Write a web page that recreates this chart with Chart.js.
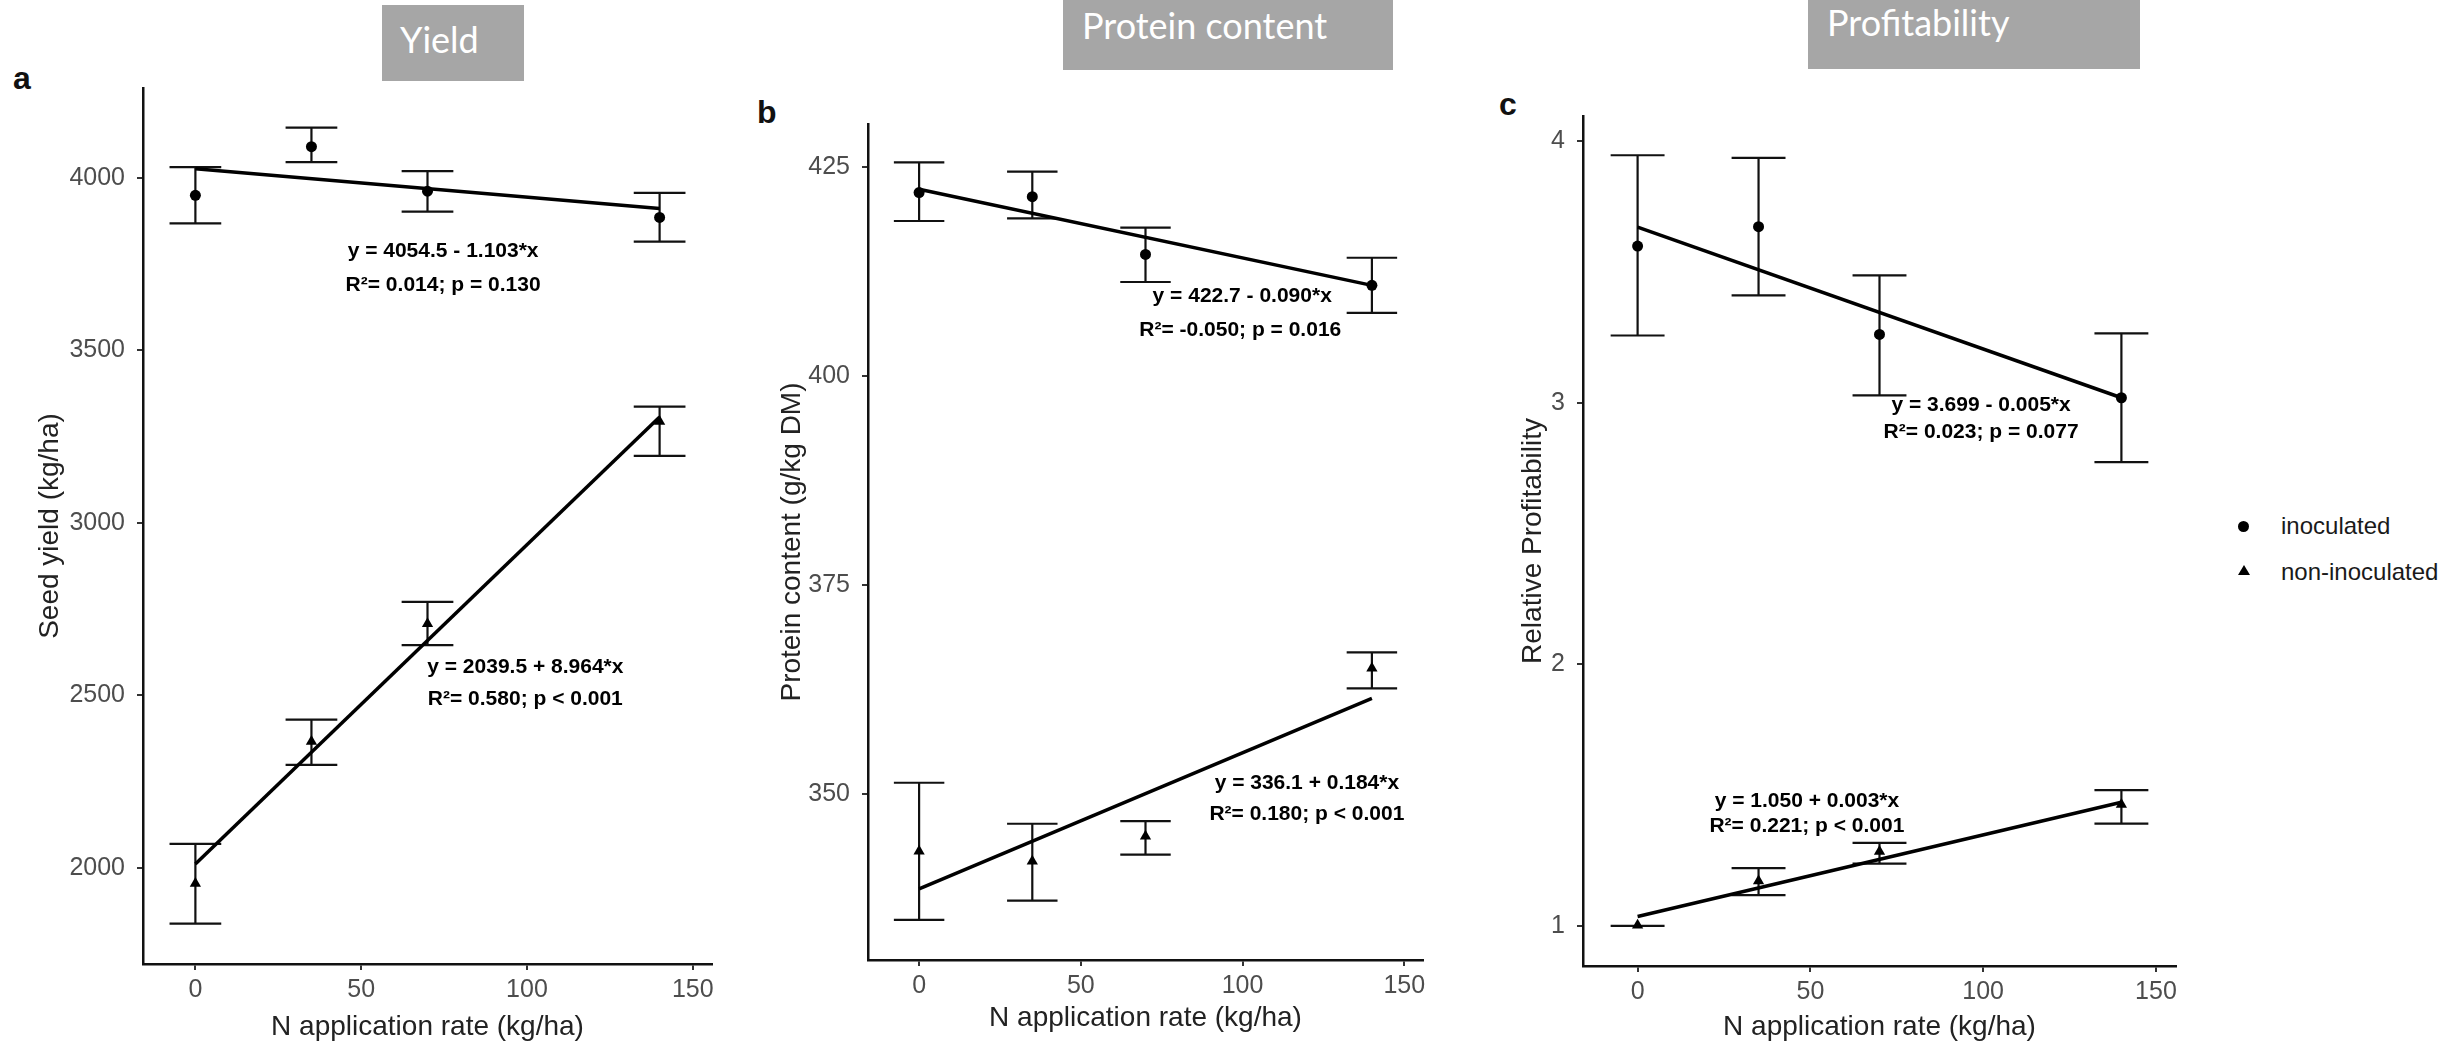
<!DOCTYPE html>
<html>
<head>
<meta charset="utf-8">
<script src="https://cdn.jsdelivr.net/npm/chart.js@4.4.1/dist/chart.umd.min.js"></script>
<style>
html,body{margin:0;padding:0;background:#fff;}
body{width:2445px;height:1041px;overflow:hidden;position:relative;font-family:'Liberation Sans',Arial,sans-serif;}
canvas{position:absolute;top:0;}
.tbox{position:absolute;background:#a6a6a6;}
.tbox span{position:absolute;color:#fff;font-family:Lato,'Open Sans',sans-serif;font-size:36px;line-height:43px;white-space:nowrap;}
.plab{position:absolute;font-size:32px;line-height:32px;font-weight:bold;color:#111;}
.leg{position:absolute;font-size:24px;line-height:24px;color:#1a1a1a;white-space:nowrap;}
.dot{position:absolute;width:11px;height:11px;border-radius:50%;background:#000;}
.tri{position:absolute;width:0;height:0;border-left:6px solid transparent;border-right:6px solid transparent;border-bottom:10px solid #000;}
</style>
</head>
<body>
<div class="tbox" style="left:382px;top:5px;width:142px;height:76px;"><span style="left:18px;top:13px;">Yield</span></div>
<div class="tbox" style="left:1063px;top:0px;width:330px;height:70px;"><span style="left:19px;top:4px;">Protein content</span></div>
<div class="tbox" style="left:1808px;top:0px;width:332px;height:69px;"><span style="left:19px;top:1px;">Profitability</span></div>
<div class="plab" style="left:13px;top:62px;">a</div>
<div class="plab" style="left:757px;top:96px;">b</div>
<div class="plab" style="left:1499px;top:88px;">c</div>
<div class="dot" style="left:2238px;top:521px;"></div>
<div class="leg" style="left:2281px;top:514px;">inoculated</div>
<div class="tri" style="left:2238px;top:565px;"></div>
<div class="leg" style="left:2281px;top:560px;">non-inoculated</div>
<script>
// ---------- data ----------
const nRates = [0, 35, 70, 140];
const fitX = [0, 140];

// Yield (kg/ha)
const yieldInocMean = [3949, 4090, 3961, 3885];
const yieldInocLow  = [3868, 4045, 3902, 3815];
const yieldInocHigh = [4031, 4145, 4019, 3956];
const yieldNonMean  = [1955, 2367, 2708, 3294];
const yieldNonLow   = [1839, 2299, 2646, 3194];
const yieldNonHigh  = [2070, 2430, 2771, 3337];
const yieldInocFit  = [4026, 3911];
const yieldNonFit   = [2012, 3307];
const yieldTicks    = [2000, 2500, 3000, 3500, 4000];

// Protein content (g/kg DM)
const protInocMean = [421.9, 421.4, 414.5, 410.8];
const protInocLow  = [418.5, 418.8, 411.2, 407.5];
const protInocHigh = [425.5, 424.4, 417.7, 414.1];
const protNonMean  = [343.1, 341.9, 344.9, 365.0];
const protNonLow   = [334.9, 337.2, 342.7, 362.6];
const protNonHigh  = [351.3, 346.4, 346.7, 366.9];
const protInocFit  = [422.3, 410.8];
const protNonFit   = [338.6, 361.4];
const protTicks    = [350, 375, 400, 425];

// Relative profitability
const profInocMean = [3.599, 3.673, 3.261, 3.019];
const profInocLow  = [3.257, 3.410, 3.028, 2.773];
const profInocHigh = [3.946, 3.936, 3.487, 3.265];
const profNonMean  = [1.003, 1.172, 1.285, 1.464];
const profNonLow   = [1.000, 1.118, 1.238, 1.391];
const profNonHigh  = [1.000, 1.221, 1.318, 1.519];
const profInocFit  = [3.671, 3.019];
const profNonFit   = [1.036, 1.473];
const profTicks    = [1, 2, 3, 4];

const xTicks = [0, 50, 100, 150];

const yieldEq = ['y = 4054.5 - 1.103*x', 'R²= 0.014; p = 0.130', 'y = 2039.5 + 8.964*x', 'R²= 0.580; p < 0.001'];
const protEq  = ['y = 422.7 - 0.090*x', 'R²= -0.050; p = 0.016', 'y = 336.1 + 0.184*x', 'R²= 0.180; p < 0.001'];
const profEq  = ['y = 3.699 - 0.005*x', 'R²= 0.023; p = 0.077', 'y = 1.050 + 0.003*x', 'R²= 0.221; p < 0.001'];

// ---------- rendering ----------
const H = 1041;
const FONT = "'Liberation Sans', Arial, sans-serif";
const CAP = 7.8; // half width of error-bar caps, in x units

const errPlugin = {
  id: 'errbars',
  beforeDatasetsDraw(chart, args, opts) {
    const {ctx, scales: {x, y}} = chart;
    ctx.save();
    ctx.strokeStyle = '#111';
    ctx.lineWidth = 2.2;
    ctx.lineCap = 'butt';
    for (const s of opts.series) {
      nRates.forEach((r, i) => {
        const px = x.getPixelForValue(r);
        const lo = y.getPixelForValue(s.low[i]);
        const hi = y.getPixelForValue(s.high[i]);
        const c0 = x.getPixelForValue(r - CAP), c1 = x.getPixelForValue(r + CAP);
        ctx.beginPath();
        ctx.moveTo(px, lo); ctx.lineTo(px, hi);
        ctx.moveTo(c0, lo); ctx.lineTo(c1, lo);
        ctx.moveTo(c0, hi); ctx.lineTo(c1, hi);
        ctx.stroke();
      });
    }
    ctx.restore();
  },
  afterDatasetsDraw(chart, args, opts) {
    const {ctx, scales: {x, y}} = chart;
    ctx.save();
    ctx.fillStyle = '#000';
    ctx.font = 'bold 21px ' + FONT;
    ctx.textAlign = 'center';
    ctx.textBaseline = 'middle';
    for (const n of opts.notes) {
      ctx.fillText(n.text, x.getPixelForValue(n.x), y.getPixelForValue(n.y));
    }
    ctx.restore();
  }
};

function makePanel(p) {
  const cv = document.createElement('canvas');
  cv.width = p.W; cv.height = H;
  cv.style.left = p.L + 'px';
  cv.style.width = p.W + 'px'; cv.style.height = H + 'px';
  document.body.appendChild(cv);
  const A = p.area;
  const pts = (arr) => nRates.map((x, i) => ({x, y: arr[i]}));
  const fit = (arr) => fitX.map((x, i) => ({x, y: arr[i]}));
  new Chart(cv, {
    type: 'scatter',
    data: {
      datasets: [
        {label: 'inoculated', data: pts(p.inoc.mean), pointStyle: 'circle', pointRadius: 5.5,
         backgroundColor: '#000', borderColor: '#000', borderWidth: 0},
        {label: 'non-inoculated', data: pts(p.non.mean), pointStyle: 'triangle', pointRadius: 6.5,
         backgroundColor: '#000', borderColor: '#000', borderWidth: 0},
        {label: 'fit inoculated', type: 'line', data: fit(p.inoc.fit), borderColor: '#000',
         borderWidth: 3.5, pointRadius: 0, fill: false, tension: 0},
        {label: 'fit non-inoculated', type: 'line', data: fit(p.non.fit), borderColor: '#000',
         borderWidth: 3.5, pointRadius: 0, fill: false, tension: 0}
      ]
    },
    options: {
      responsive: false, animation: false, devicePixelRatio: 1,
      layout: {padding: {top: A.top, right: p.L + p.W - A.right, left: 0, bottom: 0}},
      plugins: {
        legend: {display: false}, tooltip: {enabled: false},
        errbars: {series: [p.inoc, p.non], notes: p.notes}
      },
      scales: {
        x: {
          type: 'linear', min: -15.8, max: 155.8,
          afterFit: (s) => { s.height = H - A.bottom; },
          afterBuildTicks: (s) => { s.ticks = xTicks.map(v => ({value: v})); },
          ticks: {font: {size: 25, family: FONT}, color: '#4d4d4d', padding: 5, maxRotation: 0, autoSkip: false,
                  callback: (v) => String(v)},
          grid: {drawOnChartArea: false, drawTicks: true, tickLength: 6, color: '#333', lineWidth: 2},
          border: {display: true, color: '#111', width: 2.5},
          title: {display: true, text: 'N application rate (kg/ha)', color: '#222',
                  font: {size: 28, family: FONT, lineHeight: 1}, padding: {top: 0, bottom: p.xTitlePad}}
        },
        y: {
          type: 'linear', min: p.ymin, max: p.ymax,
          afterFit: (s) => { s.width = A.left - p.L; },
          afterBuildTicks: (s) => { s.ticks = p.yTicks.map(v => ({value: v})); },
          ticks: {font: {size: 25, family: FONT}, color: '#4d4d4d', padding: 12, autoSkip: false,
                  callback: (v) => String(v)},
          grid: {drawOnChartArea: false, drawTicks: true, tickLength: 6, color: '#333', lineWidth: 2},
          border: {display: true, color: '#111', width: 2.5},
          title: {display: true, text: p.yTitle, color: '#222',
                  font: {size: 28, family: FONT, lineHeight: 1}, padding: {top: p.yTitleX - p.L - 14, bottom: 0}}
        }
      }
    },
    plugins: [errPlugin]
  });
}

makePanel({
  L: 0, W: 740, area: {left: 143, right: 712, top: 88, bottom: 964},
  ymin: 1722, ymax: 4260, yTicks: yieldTicks, yTitle: 'Seed yield (kg/ha)', yTitleX: 50, xTitlePad: 0,
  inoc: {mean: yieldInocMean, low: yieldInocLow, high: yieldInocHigh, fit: yieldInocFit},
  non:  {mean: yieldNonMean, low: yieldNonLow, high: yieldNonHigh, fit: yieldNonFit},
  notes: [
    {x: 74.7, y: 3786, text: yieldEq[0]}, {x: 74.7, y: 3690, text: yieldEq[1]},
    {x: 99.5, y: 2582, text: yieldEq[2]}, {x: 99.5, y: 2488, text: yieldEq[3]}
  ]
});

makePanel({
  L: 740, W: 740, area: {left: 868, right: 1423, top: 124, bottom: 960},
  ymin: 330.1, ymax: 430.1, yTicks: protTicks, yTitle: 'Protein content (g/kg DM)', yTitleX: 792, xTitlePad: 9,
  inoc: {mean: protInocMean, low: protInocLow, high: protInocHigh, fit: protInocFit},
  non:  {mean: protNonMean, low: protNonLow, high: protNonHigh, fit: protNonFit},
  notes: [
    {x: 99.9, y: 409.5, text: protEq[0]}, {x: 99.3, y: 405.4, text: protEq[1]},
    {x: 119.9, y: 351.3, text: protEq[2]}, {x: 119.9, y: 347.5, text: protEq[3]}
  ]
});

makePanel({
  L: 1480, W: 730, area: {left: 1583, right: 2176, top: 116, bottom: 966},
  ymin: 0.847, ymax: 4.096, yTicks: profTicks, yTitle: 'Relative Profitability', yTitleX: 1533, xTitlePad: 0,
  inoc: {mean: profInocMean, low: profInocLow, high: profInocHigh, fit: profInocFit},
  non:  {mean: profNonMean, low: profNonLow, high: profNonHigh, fit: profNonFit},
  notes: [
    {x: 99.4, y: 2.990, text: profEq[0]}, {x: 99.4, y: 2.889, text: profEq[1]},
    {x: 49.0, y: 1.478, text: profEq[2]}, {x: 49.0, y: 1.382, text: profEq[3]}
  ]
});
</script>
</body>
</html>
